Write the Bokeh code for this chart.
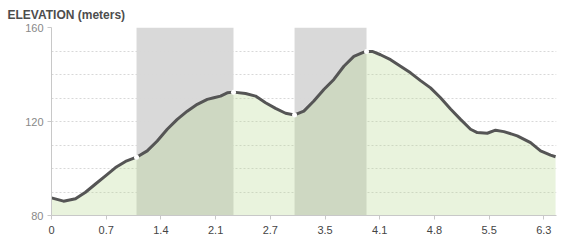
import numpy as np
from bokeh.plotting import figure
from bokeh.models import Range1d, FixedTicker, BoxAnnotation
from bokeh.embed import file_html
from bokeh.resources import INLINE

# distance (km) and elevation (m)
distance = [0.0, 0.154, 0.307, 0.435, 0.563, 0.691, 0.819, 0.947, 1.088, 1.225,
            1.353, 1.481, 1.609, 1.737, 1.865, 1.993, 2.077, 2.163, 2.249, 2.329,
            2.483, 2.611, 2.739, 2.867, 2.995, 3.110, 3.229, 3.357, 3.485, 3.613,
            3.741, 3.869, 3.997, 4.031, 4.104, 4.210, 4.338, 4.466, 4.594, 4.722,
            4.850, 4.978, 5.106, 5.234, 5.362, 5.448, 5.576, 5.682, 5.788, 5.960,
            6.130, 6.258, 6.386, 6.450]
elevation = [87.5, 86.1, 87.1, 89.9, 93.4, 96.9, 100.4, 103.0, 104.8, 107.5,
             111.7, 116.7, 120.9, 124.4, 127.3, 129.4, 130.1, 130.8, 132.2, 132.5,
             131.9, 130.8, 128.0, 125.6, 123.5, 122.8, 124.4, 128.7, 133.6, 137.9,
             143.5, 147.7, 149.5, 149.8, 149.8, 148.4, 146.3, 143.5, 140.7, 137.4,
             134.3, 130.1, 125.3, 120.9, 116.7, 115.3, 115.0, 116.3, 115.7, 113.9,
             111.0, 107.5, 105.7, 105.0]

band_starts = [1.088, 3.110]
band_ends = [2.329, 4.031]

x_ticks = [0.0, 0.7, 1.4, 2.1, 2.8, 3.5, 4.2, 4.9, 5.6, 6.3]
x_tick_labels = ["0", "0.7", "1.4", "2.1", "2.7", "3.5", "4.1", "4.8", "5.5", "6.3"]
y_ticks = [80, 120, 160]
y_grid_minor = [90, 100, 110, 130, 140, 150]

FONT = "Liberation Sans"

p = figure(width=564, height=244, output_backend="svg", toolbar_location=None,
           x_range=Range1d(0, 6.462), y_range=Range1d(80, 160),
           min_border_left=51, min_border_right=8, min_border_top=26,
           min_border_bottom=29)
p.outline_line_color = None
p.background_fill_color = "white"

p.title.text = "ELEVATION (meters)"
p.title.align = "left"
p.title.offset = -44
p.title.text_font = FONT
p.title.text_font_size = "12px"
p.title.text_font_style = "bold"
p.title.text_color = "#4d4d4d"
p.title.standoff = 11

for s, e in zip(band_starts, band_ends):
    p.add_layout(BoxAnnotation(left=s, right=e, fill_color="#d9d9d9", fill_alpha=1.0,
                               line_color=None, level="image"))

p.varea(x=distance, y1=[80] * len(distance), y2=elevation,
        fill_color="#b7d68d", fill_alpha=0.3)
p.line(distance, elevation, line_color="#555555", line_width=3, line_join="round")

marks_x = band_starts + band_ends
marks_y = list(np.interp(marks_x, distance, elevation))
p.scatter(marks_x, marks_y, size=5, fill_color="white", line_color=None, marker="circle")

# axes
p.xaxis.ticker = FixedTicker(ticks=x_ticks)
p.xaxis.major_label_overrides = {t: l for t, l in zip(x_ticks, x_tick_labels)}
p.yaxis.ticker = FixedTicker(ticks=y_ticks, minor_ticks=y_grid_minor)
for ax in (p.xaxis, p.yaxis):
    ax.axis_line_color = "#c8c8c8"
    ax.major_tick_line_color = "#c8c8c8"
    ax.major_tick_out = 4
    ax.major_tick_in = 0
    ax.minor_tick_line_color = None
    ax.major_label_text_font = FONT
    ax.major_label_text_font_size = "11px"
p.xaxis.major_label_text_color = "#444444"
p.yaxis.major_label_text_color = "#888888"
p.xaxis.major_label_standoff = 6
p.yaxis.major_label_standoff = 4

p.xgrid.grid_line_color = None
p.ygrid.grid_line_color = "#d8d8d8"
p.ygrid.grid_line_dash = "2 2"
p.ygrid.minor_grid_line_color = "#d8d8d8"
p.ygrid.minor_grid_line_dash = "2 2"
p.ygrid.level = "underlay"

open("out.html", "w").write(file_html(p, INLINE))
